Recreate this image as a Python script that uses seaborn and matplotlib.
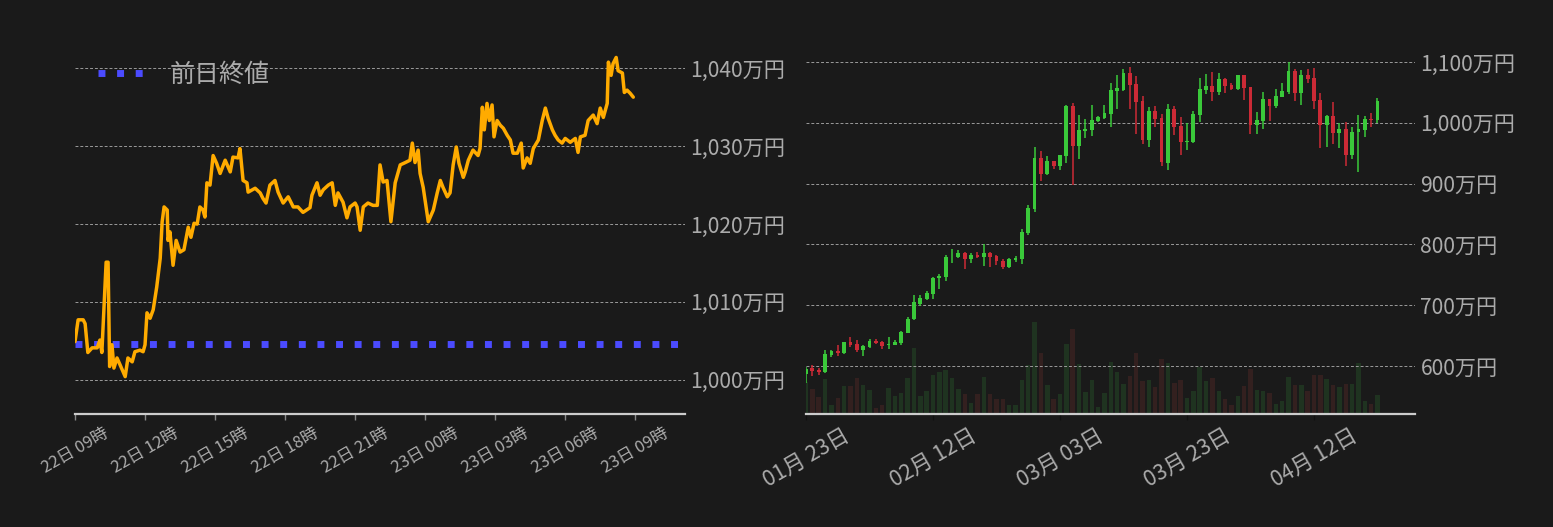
import matplotlib
matplotlib.use("Agg")
import matplotlib.dates as mdates
import matplotlib.pyplot as plt
import pandas as pd
import seaborn as sns
from matplotlib.ticker import FuncFormatter

# --- intraday: minutes after 22日 09:00, price in 万円 ---
intraday_minutes = [
    0, 8, 21, 26, 33, 44, 57, 64, 69, 80, 85, 89, 95, 100, 108, 116, 129, 136, 147, 154,
    167, 175, 180, 185, 193, 201, 210, 219, 224, 229, 237, 239, 244, 252, 260, 270, 280, 291, 298, 306,
    314, 321, 329, 334, 339, 347, 355, 364, 373, 386, 399, 406, 419, 424, 432, 442, 445, 463, 476, 483,
    491, 501, 514, 522, 535, 548, 561, 573, 586, 604, 609, 622, 630, 638, 651, 661, 669, 676, 689, 699,
    707, 720, 725, 733, 741, 753, 766, 777, 784, 792, 802, 812, 823, 836, 849, 861, 867, 874, 882, 887,
    895, 908, 921, 931, 939, 946, 957, 964, 972, 980, 987, 998, 1003, 1011, 1023, 1036, 1041, 1047, 1052, 1059,
    1065, 1072, 1077, 1085, 1093, 1101, 1111, 1119, 1126, 1137, 1147, 1152, 1162, 1170, 1178, 1191, 1201, 1209, 1216, 1227,
    1234, 1242, 1252, 1260, 1273, 1286, 1293, 1299, 1311, 1319, 1332, 1342, 1350, 1358, 1368, 1371, 1378, 1383, 1391, 1396,
    1407, 1412, 1419, 1427, 1435,
]
intraday_prices = [
    1004.9, 1007.7, 1007.7, 1007.2, 1003.5, 1004.1, 1004.1, 1005.1, 1003.5, 1015.1, 1015.1, 1001.7, 1004.5, 1001.5, 1002.8, 1001.9, 1000.4, 1002.8, 1002.3, 1003.6,
    1003.8, 1003.6, 1004.5, 1008.6, 1007.9, 1009.0, 1011.9, 1015.6, 1020.3, 1022.2, 1021.8, 1017.9, 1019.0, 1014.7, 1017.9, 1016.4, 1016.7, 1019.6, 1018.3, 1020.1,
    1020.0, 1022.2, 1021.8, 1020.9, 1025.3, 1025.0, 1028.8, 1027.8, 1026.5, 1028.2, 1026.7, 1028.6, 1028.5, 1029.7, 1025.6, 1025.3, 1024.1, 1024.6, 1024.0, 1023.3,
    1022.7, 1025.0, 1025.6, 1024.1, 1022.7, 1023.5, 1022.2, 1022.2, 1021.5, 1022.1, 1023.7, 1025.3, 1023.7, 1024.4, 1025.0, 1025.3, 1022.4, 1024.0, 1022.8, 1020.8,
    1022.2, 1022.7, 1022.2, 1019.2, 1022.2, 1022.7, 1022.4, 1022.4, 1027.6, 1025.4, 1025.6, 1020.3, 1025.3, 1027.6, 1027.9, 1028.2, 1030.4, 1027.9, 1029.5, 1026.5,
    1024.7, 1020.3, 1021.8, 1024.0, 1025.6, 1024.7, 1023.5, 1024.0, 1027.6, 1029.9, 1027.8, 1026.0, 1026.7, 1028.2, 1029.5, 1028.8, 1029.7, 1035.0, 1032.1, 1035.5,
    1033.3, 1035.3, 1031.2, 1033.3, 1032.7, 1032.3, 1031.4, 1030.8, 1029.1, 1029.1, 1030.4, 1027.2, 1028.5, 1027.8, 1029.7, 1030.8, 1033.3, 1034.9, 1033.6, 1032.1,
    1031.4, 1030.8, 1030.4, 1031.0, 1030.5, 1031.0, 1029.2, 1031.2, 1031.4, 1033.3, 1034.0, 1032.9, 1034.9, 1033.7, 1035.5, 1040.8, 1039.1, 1040.6, 1041.4, 1039.7,
    1039.4, 1036.9, 1037.2, 1036.8, 1036.3,
]
prev_close = 1004.6
intraday_start = "2024-04-22 09:00"

# --- daily candles from 01月23日, price in 万円 ---
daily_start = "2024-01-23"
opens = [
    587, 596, 594, 590, 618, 625, 621, 639.5, 636, 627, 632, 641, 639.5, 634, 635, 638, 655, 677, 702, 710,
    719, 744, 747, 778.5, 779, 786, 776, 782, 779, 786, 781, 773, 763, 774, 776, 819, 858, 942, 916, 937,
    929, 945.5, 1028, 962, 987, 988, 1003, 1008, 1015, 1052, 1054, 1082, 1064, 1036, 972, 1019, 1008, 934, 1023, 995,
    968, 968, 1013, 1054, 1061, 1051, 1072, 1062, 1056, 1079, 1059, 996, 1003, 1039, 1028, 1043, 1051, 1085, 1049, 1079,
    1074, 1038, 996, 1011, 983, 990, 947, 985, 988, 1007, 1005,
]
highs = [
    598, 601, 597.5, 626, 626, 634.5, 640, 647.7, 642, 634.5, 644, 644.5, 641, 647.7, 642, 658, 680, 717, 717, 723,
    746, 751, 782, 792, 791, 787, 786, 787.5, 800, 787, 782.5, 776, 778, 781, 825, 865, 960, 954, 945, 937,
    947, 1029, 1033, 1013, 1006, 1029, 1011, 1029, 1065, 1079, 1088, 1092, 1077, 1044, 1026, 1028, 1015, 1031, 1028, 1010,
    1000, 1019, 1074, 1080, 1084, 1082, 1074, 1066, 1079, 1079, 1059, 1018, 1051, 1039, 1056, 1066, 1100, 1089, 1087, 1088,
    1090, 1049, 1013, 1034, 1000, 1001, 994, 1013, 1011, 1016, 1041,
]
lows = [
    572, 584, 585, 589, 614, 617, 620, 631, 623, 617, 630, 636, 628.5, 628.5, 634, 635, 654, 676, 699, 708,
    710, 727, 740, 769, 777, 760, 769, 777, 764.5, 763, 766, 760, 761, 771, 768, 816, 854, 905, 914, 924,
    922, 934, 898, 940, 975, 978, 1002, 1007, 993, 1023, 1052, 1023, 982, 965, 960, 993, 929, 922, 980, 947,
    955, 967, 1002, 1047, 1036, 1046, 1049, 1054, 1054, 1037, 982, 982, 990, 1003, 1024, 1043, 1047, 1036, 1029, 1065,
    1023, 959, 960, 966, 959, 929, 940, 919, 977, 993, 1000,
]
closes = [
    595, 592, 590, 620, 625, 621, 639.5, 634.5, 627, 633, 641, 637.5, 633, 636, 639.5, 656, 677, 704.5, 712, 720,
    745, 748, 779, 779.5, 786, 776, 782, 779, 786, 779, 773, 763, 776, 777.5, 820, 860, 942, 916, 937, 929,
    947, 1028, 962, 988, 990, 1005, 1010, 1016, 1054, 1057, 1082, 1062, 1034, 972, 1019, 1006, 936, 1023, 993, 968,
    970, 1014, 1056, 1061, 1051, 1072, 1061, 1056, 1079, 1057, 996, 1005, 1039, 1028, 1044, 1052, 1085, 1049, 1079, 1072,
    1036, 996, 1011, 983, 990, 947, 985, 990, 1007, 1005, 1036,
]
volumes = [
    32, 25, 17, 35, 9, 16, 28, 28, 36, 29, 24, 6, 9, 26, 18, 21, 36, 66, 18, 23,
    39, 42, 44, 36, 25, 20, 11, 20, 37, 20, 15, 15, 9, 9, 34, 49, 92, 61, 29, 15,
    20, 70, 85, 50, 22, 34, 7, 21, 52, 42, 30, 38, 61, 33, 34, 27, 55, 51, 31, 34,
    16, 23, 47, 33, 36, 23, 15, 9, 18, 28, 45, 24, 23, 21, 10, 13, 37, 29, 29, 23,
    39, 39, 35, 29, 27, 30, 30, 51, 13, 10, 19,
]

BG = "#1a1a1a"
TXT = "#ababab"
GRID = "#9a9a9a"

sns.set_theme(style="dark", rc={
    "figure.facecolor": BG,
    "axes.facecolor": BG,
    "savefig.facecolor": BG,
    "text.color": TXT,
    "xtick.color": TXT,
    "ytick.color": TXT,
    "patch.edgecolor": "none",
})
plt.rcParams["font.family"] = ["Noto Sans CJK JP", "DejaVu Sans"]

intraday = pd.DataFrame({
    "time": pd.Timestamp(intraday_start) + pd.to_timedelta(intraday_minutes, unit="min"),
    "price": intraday_prices,
})
daily = pd.DataFrame({
    "date": pd.date_range(daily_start, periods=len(opens), freq="D"),
    "open": opens, "high": highs, "low": lows, "close": closes, "volume": volumes,
})
daily["up"] = daily["close"] >= daily["open"]

fig = plt.figure(figsize=(15.53, 5.27), dpi=100)
ax1 = fig.add_axes([0.0483, 0.2144, 0.3928, 0.7076])
ax2 = fig.add_axes([0.519, 0.2144, 0.3921, 0.7076])
yen = FuncFormatter(lambda v, _: f"{v:,.0f}万円")


def style_axis(ax, tick_color):
    for side in ["left", "right", "top"]:
        ax.spines[side].set_visible(False)
    ax.spines["bottom"].set_color("#cccccc")
    ax.spines["bottom"].set_linewidth(1.6)
    ax.yaxis.tick_right()
    ax.yaxis.set_major_formatter(yen)
    ax.tick_params(axis="y", length=0, pad=4, labelsize=15.2, colors=TXT)
    ax.tick_params(axis="x", length=4, width=1, color=tick_color, bottom=True)
    ax.grid(axis="y", color=GRID, linestyle=(0, (3, 2)), linewidth=0.7)
    ax.grid(axis="x", visible=False)


# left: intraday line
sns.lineplot(data=intraday, x="time", y="price", ax=ax1, color="#ffab00", linewidth=2.5, zorder=3)
ax1.axhline(prev_close, color="#4b4bff", linestyle=(0, (1, 1.68)), linewidth=5, label="前日終値", zorder=2)
ax1.set_xlim(pd.Timestamp(intraday_start), pd.Timestamp(intraday_start) + pd.Timedelta(minutes=1568))
ax1.set_ylim(995.6, 1043.5)
ax1.set_yticks([1000, 1010, 1020, 1030, 1040])
ax1.xaxis.set_major_locator(mdates.HourLocator(byhour=range(0, 24, 3)))
ax1.xaxis.set_major_formatter(mdates.DateFormatter("%d日 %H時"))
style_axis(ax1, "#888888")
ax1.tick_params(axis="x", labelsize=12, labelrotation=30)
ax1.set_xlabel("")
ax1.set_ylabel("")
leg = ax1.legend(loc="upper left", frameon=False, fontsize=18, handlelength=2.0,
                 handletextpad=0.9, bbox_to_anchor=(0.0, 1.005))
for t in leg.get_texts():
    t.set_color(TXT)

# right: daily candles + volume
vol_ax = ax2.twinx()
vol_colors = ["#1f3320" if u else "#33201f" for u in daily["up"]]
vol_ax.bar(daily["date"], daily["volume"], width=0.7, color=vol_colors, linewidth=0, zorder=1)
vol_ax.set_ylim(0, 373)
vol_ax.set_yticks([])
for side in vol_ax.spines:
    vol_ax.spines[side].set_visible(False)
ax2.set_zorder(vol_ax.get_zorder() + 1)
ax2.patch.set_visible(False)

candle_colors = ["#3ac93a" if u else "#cc2a36" for u in daily["up"]]
body_low = daily[["open", "close"]].min(axis=1)
body_h = (daily["close"] - daily["open"]).abs().clip(lower=1.3)
ax2.vlines(daily["date"], daily["low"], daily["high"], color=candle_colors, linewidth=1.1, zorder=3)
ax2.bar(daily["date"], body_h, bottom=body_low, width=0.6, color=candle_colors, linewidth=0, zorder=4)
ax2.set_xlim(pd.Timestamp(daily_start), pd.Timestamp(daily_start) + pd.Timedelta(days=95.9))
ax2.set_ylim(521, 1134.5)
ax2.set_yticks([600, 700, 800, 900, 1000, 1100])
ax2.set_xticks(pd.date_range(daily_start, periods=5, freq="20D"))
ax2.xaxis.set_major_formatter(mdates.DateFormatter("%m月 %d日"))
style_axis(ax2, "#111111")
ax2.tick_params(axis="x", labelsize=15.5, labelrotation=30)

for lab in ax1.get_xticklabels() + ax2.get_xticklabels():
    lab.set_horizontalalignment("center")

fig.savefig("out.png", dpi=100)
